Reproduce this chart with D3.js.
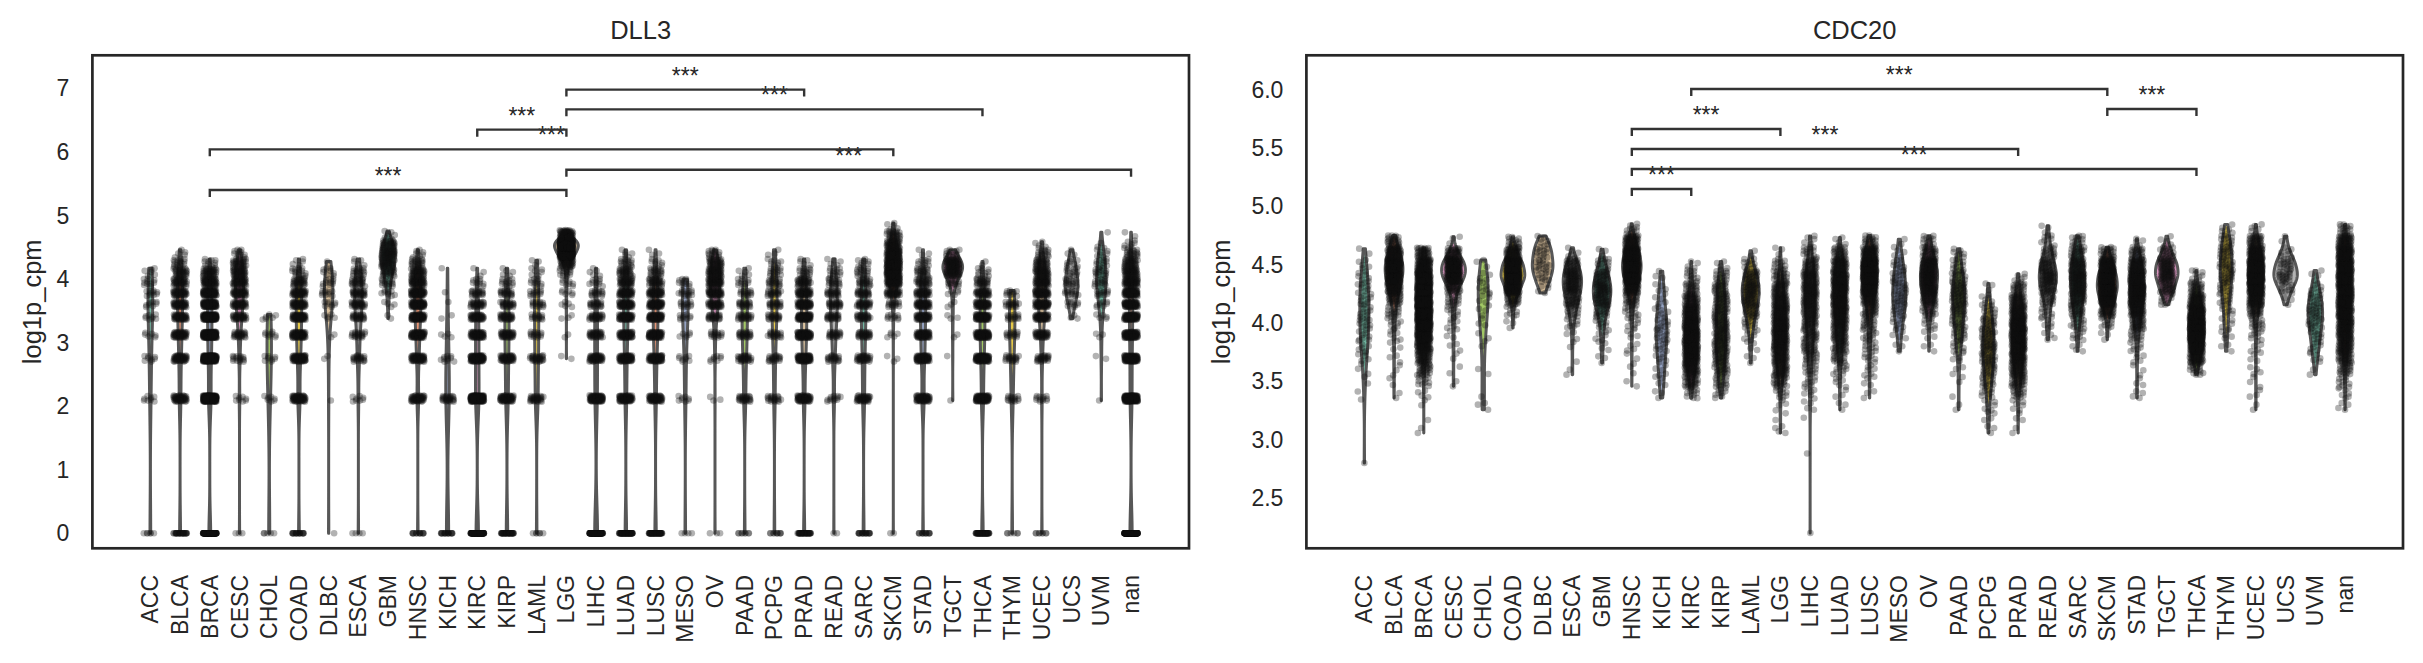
<!DOCTYPE html>
<html>
<head>
<meta charset="utf-8">
<script src="https://cdn.jsdelivr.net/npm/d3@7"></script>
<style>
  body { margin: 0; background: #fff; }
  svg { display: block; }
  text { font-family: "Liberation Sans", Arial, sans-serif; fill: #262626; }
</style>
</head>
<body>
<svg id="chart" width="2423" height="663"></svg>
<script>
const cancerTypes = ["ACC", "BLCA", "BRCA", "CESC", "CHOL", "COAD", "DLBC", "ESCA", "GBM", "HNSC",
  "KICH", "KIRC", "KIRP", "LAML", "LGG", "LIHC", "LUAD", "LUSC", "MESO", "OV", "PAAD", "PCPG",
  "PRAD", "READ", "SARC", "SKCM", "STAD", "TGCT", "THCA", "THYM", "UCEC", "UCS", "UVM", "nan"];

const set2 = ["#66c2a5", "#fc8d62", "#8da0cb", "#e78ac3", "#a6d854", "#ffd92f", "#e5c494", "#b3b3b3"];

// DLL3: log1p_cpm sits on discrete levels (low read counts), counts per level
const dll3Levels = [0, 2.12, 2.75, 3.12, 3.4, 3.6, 3.78, 3.95, 4.1, 4.25, 4.4, 4.55, 4.7, 4.85];
const dll3Spread = [0, 0.05, 0.05, 0.05, 0.045, 0.045, 0.05, 0.065, 0.07, 0.07, 0.07, 0.07, 0.07, 0.07];
const dll3Counts = [
  [6, 8, 8, 6, 8, 8, 10, 10, 6, 0, 0, 0, 0, 0],          // ACC
  [30, 50, 50, 50, 45, 45, 45, 40, 30, 15, 5, 0, 0, 0],   // BLCA
  [150, 200, 180, 150, 130, 100, 80, 60, 40, 10, 0, 0, 0, 0],
  [3, 8, 15, 25, 35, 40, 45, 45, 40, 30, 10, 0, 0, 0],
  [5, 7, 8, 8, 6, 0, 0, 0, 0, 0, 0, 0, 0, 0],
  [20, 60, 70, 65, 60, 50, 45, 30, 15, 5, 0, 0, 0, 0],
  [1, 1, 2, 2, 5, 8, 10, 10, 8, 1, 0, 0, 0, 0],
  [4, 8, 20, 20, 25, 30, 30, 25, 18, 5, 0, 0, 0, 0],
  [0, 0, 0, 0, 2, 4, 8, 15, 25, 35, 40, 30, 7, 0],        // GBM
  [15, 50, 60, 70, 70, 70, 65, 55, 40, 20, 7, 0, 0, 0],
  [20, 25, 10, 4, 2, 1, 1, 0, 1, 0, 0, 0, 0, 0],
  [120, 150, 90, 60, 45, 30, 20, 10, 3, 0, 0, 0, 0, 0],
  [40, 60, 50, 40, 35, 25, 20, 12, 5, 0, 0, 0, 0, 0],
  [6, 30, 30, 15, 15, 15, 12, 10, 6, 3, 0, 0, 0, 0],
  [0, 0, 2, 2, 3, 5, 6, 8, 15, 40, 150, 220, 60, 0],      // LGG
  [120, 80, 50, 35, 30, 20, 15, 10, 5, 0, 0, 0, 0, 0],
  [70, 70, 70, 60, 60, 55, 50, 40, 30, 15, 5, 0, 0, 0],
  [60, 60, 70, 70, 65, 60, 50, 35, 20, 8, 3, 0, 0, 0],
  [4, 8, 8, 6, 10, 12, 14, 10, 0, 0, 0, 0, 0, 0],
  [3, 3, 8, 15, 25, 40, 50, 55, 50, 35, 15, 0, 0, 0],
  [8, 25, 30, 25, 25, 20, 15, 10, 5, 0, 0, 0, 0, 0],
  [10, 20, 20, 20, 22, 20, 20, 20, 15, 8, 3, 0, 0, 0],
  [40, 60, 80, 80, 70, 60, 50, 35, 15, 5, 0, 0, 0, 0],
  [2, 12, 20, 22, 25, 25, 22, 18, 12, 5, 0, 0, 0, 0],
  [20, 40, 35, 30, 30, 30, 25, 22, 15, 8, 0, 0, 0, 0],
  [2, 0, 3, 5, 10, 15, 40, 70, 90, 90, 70, 45, 25, 5],    // SKCM
  [15, 60, 70, 60, 55, 50, 40, 30, 20, 10, 3, 0, 0, 0],
  [0, 1, 1, 2, 3, 3, 5, 15, 50, 55, 15, 0, 0, 0],         // TGCT
  [60, 80, 90, 80, 70, 55, 40, 25, 10, 2, 0, 0, 0, 0],
  [6, 15, 20, 15, 15, 18, 10, 0, 0, 0, 0, 0, 0, 0],
  [8, 12, 25, 40, 55, 60, 60, 55, 45, 30, 15, 5, 0, 0],
  [0, 0, 0, 0, 3, 8, 12, 14, 10, 7, 3, 0, 0, 0],          // UCS
  [0, 1, 2, 3, 5, 8, 12, 14, 14, 10, 7, 3, 1, 0],
  [200, 150, 100, 90, 80, 70, 70, 60, 50, 35, 20, 8, 2, 0] // nan
];

// CDC20: histogram in 0.1 bins, first bin centre per type
const cdc20BinWidth = 0.1;
const cdc20Start = [2.8, 3.4, 3.1, 3.5, 3.3, 4.0, 4.3, 3.6, 3.7, 3.5, 3.4, 3.4, 3.4, 3.7, 3.1, 2.2, 3.3,
  3.4, 3.8, 3.8, 3.3, 3.1, 3.1, 3.9, 3.8, 3.9, 3.4, 4.2, 3.6, 3.8, 3.3, 4.2, 3.6, 3.3];
const cdc20Counts = [
  [1, 0, 0, 0, 0, 1, 1, 2, 3, 5, 6, 8, 10, 9, 9, 8, 7, 5, 2],
  [2, 2, 3, 3, 4, 6, 8, 15, 30, 60, 90, 100, 60, 25],
  [2, 1, 2, 4, 10, 25, 40, 70, 110, 140, 160, 160, 150, 120, 70, 35],
  [2, 2, 2, 3, 4, 6, 8, 15, 35, 95, 100, 35, 3],
  [3, 1, 0, 2, 0, 2, 2, 3, 4, 5, 6, 5, 3],
  [3, 8, 30, 90, 140, 120, 50, 15],
  [5, 10, 14, 12, 7],
  [2, 1, 2, 3, 8, 15, 30, 45, 45, 28, 6],
  [3, 4, 6, 10, 20, 35, 40, 30, 15, 3],
  [2, 2, 3, 4, 5, 8, 12, 25, 60, 110, 130, 100, 50, 11],
  [3, 4, 5, 6, 8, 10, 9, 7, 5, 4, 3],
  [10, 30, 50, 70, 80, 80, 75, 60, 40, 20, 10, 5],
  [8, 15, 25, 30, 35, 35, 35, 32, 30, 25, 15, 5],
  [3, 4, 8, 14, 25, 35, 40, 30, 12, 2],
  [4, 2, 4, 10, 25, 40, 50, 60, 65, 65, 60, 50, 40, 25, 12, 3],
  [1, 0, 0, 0, 0, 0, 0, 1, 0, 0, 1, 4, 6, 8, 12, 18, 25, 30, 35, 40, 45, 50, 45, 30, 15, 5],
  [3, 3, 6, 10, 20, 30, 40, 50, 60, 70, 75, 70, 50, 25, 5],
  [3, 4, 6, 8, 10, 14, 18, 30, 50, 80, 100, 95, 60, 20],
  [3, 5, 8, 12, 15, 15, 12, 10, 5, 2],
  [3, 4, 8, 20, 40, 60, 70, 60, 30, 12],
  [2, 1, 2, 3, 5, 10, 15, 20, 25, 28, 28, 20, 12, 8],
  [3, 4, 6, 10, 15, 20, 25, 28, 25, 20, 12, 8, 3],
  [2, 3, 6, 15, 30, 45, 60, 70, 75, 70, 55, 40, 20, 6],
  [4, 6, 10, 18, 30, 40, 30, 18, 8, 3],
  [4, 8, 15, 25, 35, 45, 50, 40, 25, 12],
  [3, 10, 40, 90, 120, 110, 70, 25],
  [4, 3, 3, 5, 8, 15, 30, 50, 70, 80, 70, 50, 22, 5],
  [10, 30, 45, 40, 20, 5],
  [15, 50, 80, 100, 100, 80, 50, 25, 8],
  [3, 5, 6, 8, 10, 14, 18, 20, 18, 12, 6],
  [2, 3, 3, 4, 4, 5, 8, 15, 30, 60, 90, 110, 100, 70, 35, 6],
  [3, 10, 20, 15, 7, 2],
  [2, 5, 8, 10, 14, 16, 12, 8, 4],
  [4, 6, 10, 20, 35, 50, 60, 70, 80, 90, 95, 100, 95, 80, 50, 15]
];

const dll3Ticks = [0, 1, 2, 3, 4, 5, 6, 7];
const cdc20Ticks = [2.5, 3.0, 3.5, 4.0, 4.5, 5.0, 5.5, 6.0];
const dll3Domain = [-0.236, 7.52];
const cdc20Domain = [2.069, 6.294];

// significance brackets: [from, to, height in data units]
const dll3Brackets = [
  ["BRCA", "LGG", 5.40], ["LGG", "nan", 5.72], ["BRCA", "SKCM", 6.04],
  ["KIRC", "LGG", 6.35], ["LGG", "THCA", 6.67], ["LGG", "PRAD", 6.98]
];
const cdc20Brackets = [
  ["HNSC", "KIRC", 5.148], ["HNSC", "THCA", 5.32], ["HNSC", "PRAD", 5.491],
  ["HNSC", "LGG", 5.662], ["SKCM", "THCA", 5.834], ["KIRC", "SKCM", 6.005]
];

// ---- turn the read histograms into point values (low-discrepancy placement inside each bin)
const A1 = 0.7548776662, A2 = 0.5698402910;
const frac = (v) => v - Math.floor(v);

function valuesFromLevels(counts, centres, spreads) {
  const out = [];
  counts.forEach((c, j) => {
    for (let k = 0; k < c; k++) {
      const t = frac(0.5 + (k + j * 17) * A2) * 2 - 1;
      out.push(centres[j] + spreads[j] * t);
    }
  });
  return out;
}

const dll3Values = dll3Counts.map((c) => valuesFromLevels(c, dll3Levels, dll3Spread));
const cdc20Values = cdc20Counts.map((c, i) =>
  valuesFromLevels(c, c.map((_, j) => cdc20Start[i] + j * cdc20BinWidth), c.map(() => cdc20BinWidth / 2))
);

function kde(values, n = 120) {
  const sd = d3.deviation(values) || 0.05;
  const bw = sd * Math.pow(values.length, -0.2);
  const lo = d3.min(values), hi = d3.max(values);
  return d3.range(n).map((i) => {
    const y = lo + ((hi - lo) * i) / (n - 1);
    const s = d3.sum(values, (v) => Math.exp(-0.5 * ((y - v) / bw) ** 2));
    return { y, d: s / (values.length * bw * Math.sqrt(2 * Math.PI)) };
  });
}

const svg = d3.select("#chart");
const plotTop = 55.3, plotBottom = 548.3;

function drawPanel(opts) {
  const { gene, left, right, domain, ticks, fmt, values, brackets, ylabelX } = opts;

  const x = d3.scalePoint().domain(cancerTypes).range([left, right]).padding(1.95);
  const y = d3.scaleLinear().domain(domain).range([plotBottom, plotTop]);
  const step = x.step();
  const g = svg.append("g");

  // violins, area-scaled: every violin shares the panel's max density
  const dens = values.map((v) => kde(v));
  const maxD = d3.max(dens, (d) => d3.max(d, (p) => p.d));
  const half = 0.4 * step;

  g.selectAll(".violin")
    .data(cancerTypes)
    .enter()
    .append("path")
    .attr("class", "violin")
    .attr("d", (c, i) =>
      d3.area()
        .y((p) => y(p.y))
        .x0((p) => x(c) - (p.d / maxD) * half)
        .x1((p) => x(c) + (p.d / maxD) * half)(dens[i])
    )
    .attr("fill", (c, i) => {
      const h = d3.hsl(set2[i % set2.length]);
      h.s *= 0.75;
      return h.formatHex();
    })
    .attr("stroke", "#575757")
    .attr("stroke-width", 3)
    .attr("stroke-linejoin", "round");

  // strip points
  const pts = [];
  values.forEach((vals, i) => {
    vals.forEach((v, k) => {
      const jx = (frac(0.5 + (k + i * 31) * A1) * 2 - 1) * 0.225 * step;
      pts.push([x(cancerTypes[i]) + jx, y(v)]);
    });
  });

  g.append("g")
    .selectAll("circle")
    .data(pts)
    .enter()
    .append("circle")
    .attr("cx", (d) => d[0])
    .attr("cy", (d) => d[1])
    .attr("r", 3.3)
    .attr("fill", "#111")
    .attr("fill-opacity", 0.32);

  // frame
  g.append("rect")
    .attr("x", left)
    .attr("y", plotTop)
    .attr("width", right - left)
    .attr("height", plotBottom - plotTop)
    .attr("fill", "none")
    .attr("stroke", "#262626")
    .attr("stroke-width", 2.7);

  // y ticks (no tick marks, labels only)
  g.selectAll(".ytick")
    .data(ticks)
    .enter()
    .append("text")
    .attr("x", left - 23)
    .attr("y", (d) => y(d))
    .attr("dy", "0.35em")
    .attr("text-anchor", "end")
    .style("font-size", "23px")
    .text(fmt);

  g.selectAll(".xtick")
    .data(cancerTypes)
    .enter()
    .append("text")
    .attr("transform", (d) => `translate(${x(d)},575) rotate(-90)`)
    .attr("dy", "0.35em")
    .attr("text-anchor", "end")
    .style("font-size", "23px")
    .text((d) => d);

  g.append("text")
    .attr("transform", `translate(${ylabelX},${(plotTop + plotBottom) / 2}) rotate(-90)`)
    .attr("text-anchor", "middle")
    .style("font-size", "25.5px")
    .text("log1p_cpm");

  g.append("text")
    .attr("x", (left + right) / 2)
    .attr("y", 39)
    .attr("text-anchor", "middle")
    .style("font-size", "25.5px")
    .text(gene);

  // brackets with stars
  const br = g.append("g");
  brackets.forEach(([a, b, h]) => {
    const yy = y(h);
    br.append("path")
      .attr("d", `M${x(a)},${yy + 7}V${yy}H${x(b)}V${yy + 7}`)
      .attr("fill", "none")
      .attr("stroke", "#333")
      .attr("stroke-width", 2.4);
    br.append("text")
      .attr("x", (x(a) + x(b)) / 2)
      .attr("y", yy - 6)
      .attr("text-anchor", "middle")
      .style("font-size", "23px")
      .text("***");
  });
}

drawPanel({
  gene: "DLL3", left: 92.4, right: 1189, domain: dll3Domain, ticks: dll3Ticks,
  fmt: d3.format("d"), values: dll3Values, brackets: dll3Brackets, ylabelX: 41
});
drawPanel({
  gene: "CDC20", left: 1306.4, right: 2403, domain: cdc20Domain, ticks: cdc20Ticks,
  fmt: d3.format(".1f"), values: cdc20Values, brackets: cdc20Brackets, ylabelX: 1230
});
</script>
</body>
</html>
